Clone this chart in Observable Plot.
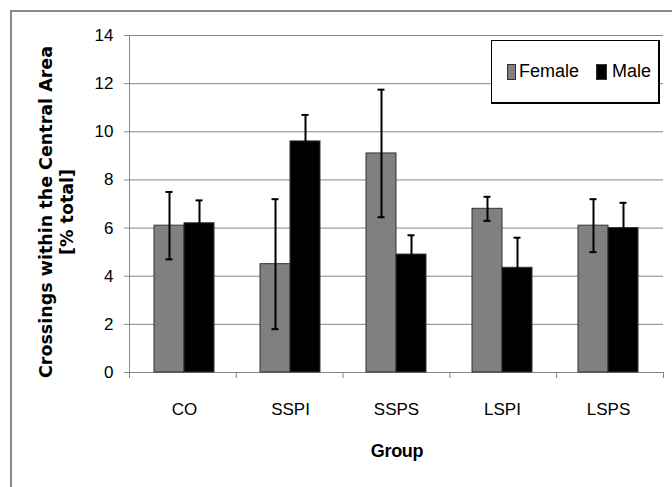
<!DOCTYPE html>
<html>
<head>
<meta charset="utf-8">
<script src="https://cdn.jsdelivr.net/npm/d3@7"></script>
<script src="https://cdn.jsdelivr.net/npm/@observablehq/plot@0.6"></script>
<style>
  body { margin: 0; background: #fff; }
  #wrap { position: relative; width: 672px; height: 487px; overflow: hidden; background: #fff; }
  #wrap svg { position: absolute; left: 0; top: 0; }
  .border { position: absolute; left: 10px; top: 10px; width: 700px; height: 520px;
            border-left: 2px solid #8a8a8a; border-top: 2px solid #8a8a8a; }
  .ytitle { position: absolute; left: 57px; top: 212px; transform: translate(-50%, -50%) rotate(-90deg);
            font: bold 17.5px "DejaVu Sans", sans-serif; text-align: center; line-height: 21px; white-space: nowrap; color: #000; }
  .xtitle { position: absolute; left: 397px; top: 441px; transform: translateX(-50%);
            font: bold 18px "Liberation Sans", sans-serif; color: #000; white-space: nowrap; letter-spacing: -0.3px; }
  .legend { position: absolute; left: 491px; top: 40px; width: 169px; height: 64px; background: #fff;
            border: 1.5px solid #000; border-bottom-width: 2px; border-right-width: 2px; box-sizing: border-box;
            display: flex; align-items: center; padding-left: 15px; overflow: hidden;
            font: 18px "Liberation Sans", sans-serif; color: #000; white-space: nowrap; }
  .legend .sw { display: inline-block; width: 7px; height: 14px; border: 1px solid #333; margin-right: 3px; }
  .legend .item + .item { margin-left: 17px; }
  .legend .item { display: flex; align-items: center; }
</style>
</head>
<body>
<div id="wrap">
  <div class="border"></div>
</div>
<script>
// ---- data ----
const groups = ["CO", "SSPI", "SSPS", "LSPI", "LSPS"];
const sexes = ["Female", "Male"];
const sexColors = ["#808080", "#000000"];
const femaleMean = [6.1, 4.5, 9.1, 6.8, 6.1];
const femaleErr  = [1.4, 2.7, 2.65, 0.5, 1.1];
const maleMean   = [6.2, 9.6, 4.9, 4.35, 6.0];
const maleErr    = [0.95, 1.1, 0.8, 1.25, 1.05];
const yTicks = [0, 2, 4, 6, 8, 10, 12, 14];
const boundaryTicks = [0, 1, 2, 3, 4, 5];
const yTitleLines = ["Crossings within the Central Area", "[% total]"];
const xTitle = "Group";

const data = groups.flatMap((g, i) => [
  {group: g, sex: "Female", mean: femaleMean[i], err: femaleErr[i]},
  {group: g, sex: "Male", mean: maleMean[i], err: maleErr[i]}
]);

const W = 672, H = 487;
const margins = {marginLeft: 129, marginRight: 9, marginTop: 35, marginBottom: 115};
const tickFont = "'Liberation Sans', sans-serif";
const gridColor = "#878787";

// ---- background layer: grid, axes lines, boundary ticks ----
const back = Plot.plot({
  width: W, height: H, ...margins,
  style: {background: "transparent", fontFamily: tickFont, fontSize: "17px", color: "#000"},
  x: {type: "linear", domain: [0, groups.length], axis: null},
  y: {domain: [0, 14], axis: null},
  marks: [
    Plot.gridY(yTicks, {stroke: gridColor, strokeOpacity: 1}),
    Plot.axisY(yTicks, {tickSize: 5, tickPadding: 11, stroke: gridColor, fill: "#000", label: null}),
    Plot.ruleX([0], {stroke: gridColor}),
    Plot.ruleY([0], {stroke: gridColor}),
    Plot.axisX(boundaryTicks, {tickSize: 6, tickFormat: () => "", stroke: gridColor, label: null})
  ]
});

// ---- foreground layer: bars and error bars ----
const front = Plot.plot({
  width: W, height: H, ...margins,
  style: {background: "transparent", fontFamily: tickFont, fontSize: "17px", color: "#000"},
  fx: {domain: groups, padding: 0, label: null},
  x: {domain: sexes, paddingInner: 0, paddingOuter: 0.75, axis: null},
  y: {domain: [0, 14], axis: null},
  color: {domain: sexes, range: sexColors},
  marks: [
    Plot.axisFx({anchor: "bottom", tickSize: 0, tickPadding: 30, label: null}),
    Plot.barY(data, {fx: "group", x: "sex", y: "mean", fill: "sex", stroke: "#333", strokeWidth: 1, inset: 0}),
    Plot.ruleX(data, {fx: "group", x: "sex", y1: d => d.mean - d.err, y2: d => d.mean + d.err, stroke: "#000", strokeWidth: 2}),
    Plot.tickY(data, {fx: "group", x: "sex", y: d => d.mean + d.err, stroke: "#000", strokeWidth: 2, insetLeft: 11.5, insetRight: 11.5}),
    Plot.tickY(data, {fx: "group", x: "sex", y: d => d.mean - d.err, stroke: "#000", strokeWidth: 2, insetLeft: 11.5, insetRight: 11.5})
  ]
});

const wrap = document.getElementById("wrap");
wrap.appendChild(back);
wrap.appendChild(front);

// titles
const yt = document.createElement("div");
yt.className = "ytitle";
yt.innerHTML = yTitleLines.map(s => `<div>${s}</div>`).join("");
wrap.appendChild(yt);

const xt = document.createElement("div");
xt.className = "xtitle";
xt.textContent = xTitle;
wrap.appendChild(xt);

// legend
const lg = document.createElement("div");
lg.className = "legend";
sexes.forEach((s, i) => {
  const item = document.createElement("span");
  item.className = "item";
  const sw = document.createElement("span");
  sw.className = "sw";
  sw.style.background = sexColors[i];
  if (i === 1) { sw.style.width = "9px"; sw.style.marginRight = "5px"; }
  const tx = document.createElement("span");
  tx.textContent = s;
  item.appendChild(sw);
  item.appendChild(tx);
  lg.appendChild(item);
});
wrap.appendChild(lg);
</script>
</body>
</html>
